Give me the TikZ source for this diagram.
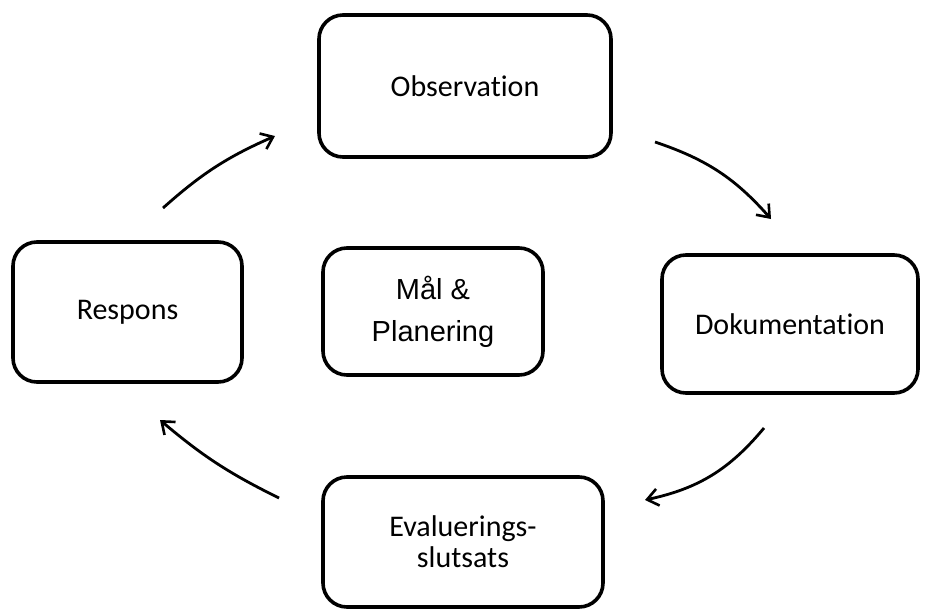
\documentclass[tikz,border=0pt]{standalone}
\usepackage{fontspec}
\setmainfont{Carlito}[Ligatures={NoCommon,NoRare}]
\newfontfamily\arialfont{Liberation Sans}
\usetikzlibrary{arrows.meta}
\begin{document}
\begin{tikzpicture}[x=1pt,y=-1pt,
  box/.style={draw=black,line width=3.6pt,rounded corners=24pt,fill=white,inner sep=0pt,align=center,
    font=\fontsize{30}{31}\selectfont},
  flow/.style={draw=black,line width=2.8pt,-{Straight Barb[length=11pt,width=17pt,line width=2.6pt]}}]
\useasboundingbox (0,0) rectangle (933,610);
\fill[white] (0,0) rectangle (933,610);
\node[box,minimum width=292pt,minimum height=142pt] (obs) at (465,86) {Observation};
\node[box,minimum width=229pt,minimum height=140pt] (resp) at (127.5,312) {Respons};
\node[box,minimum width=220pt,minimum height=127pt,font=\arialfont\fontsize{29}{42}\selectfont] (mal) at (433,311.5) {Mål \&\\Planering};
\node[box,minimum width=256pt,minimum height=138pt] (dok) at (790,324) {Dokumentation};
\node[box,minimum width=280pt,minimum height=130pt] (eval) at (463,542) {Evaluerings-\\slutsats};
\coordinate (a1s) at (163,208); \coordinate (a1e) at (275,136);
\coordinate (a2s) at (655,142); \coordinate (a2e) at (771,219);
\coordinate (a3s) at (764,428); \coordinate (a3e) at (645,500);
\coordinate (a4s) at (279,498); \coordinate (a4e) at (160,420);
\draw[flow] (a1s) to[bend left=9] (a1e);
\draw[flow] (a2s) to[bend left=15] (a2e);
\draw[flow] (a3s) to[bend left=19] (a3e);
\draw[flow] (a4s) to[bend left=7] (a4e);
\end{tikzpicture}
\end{document}
